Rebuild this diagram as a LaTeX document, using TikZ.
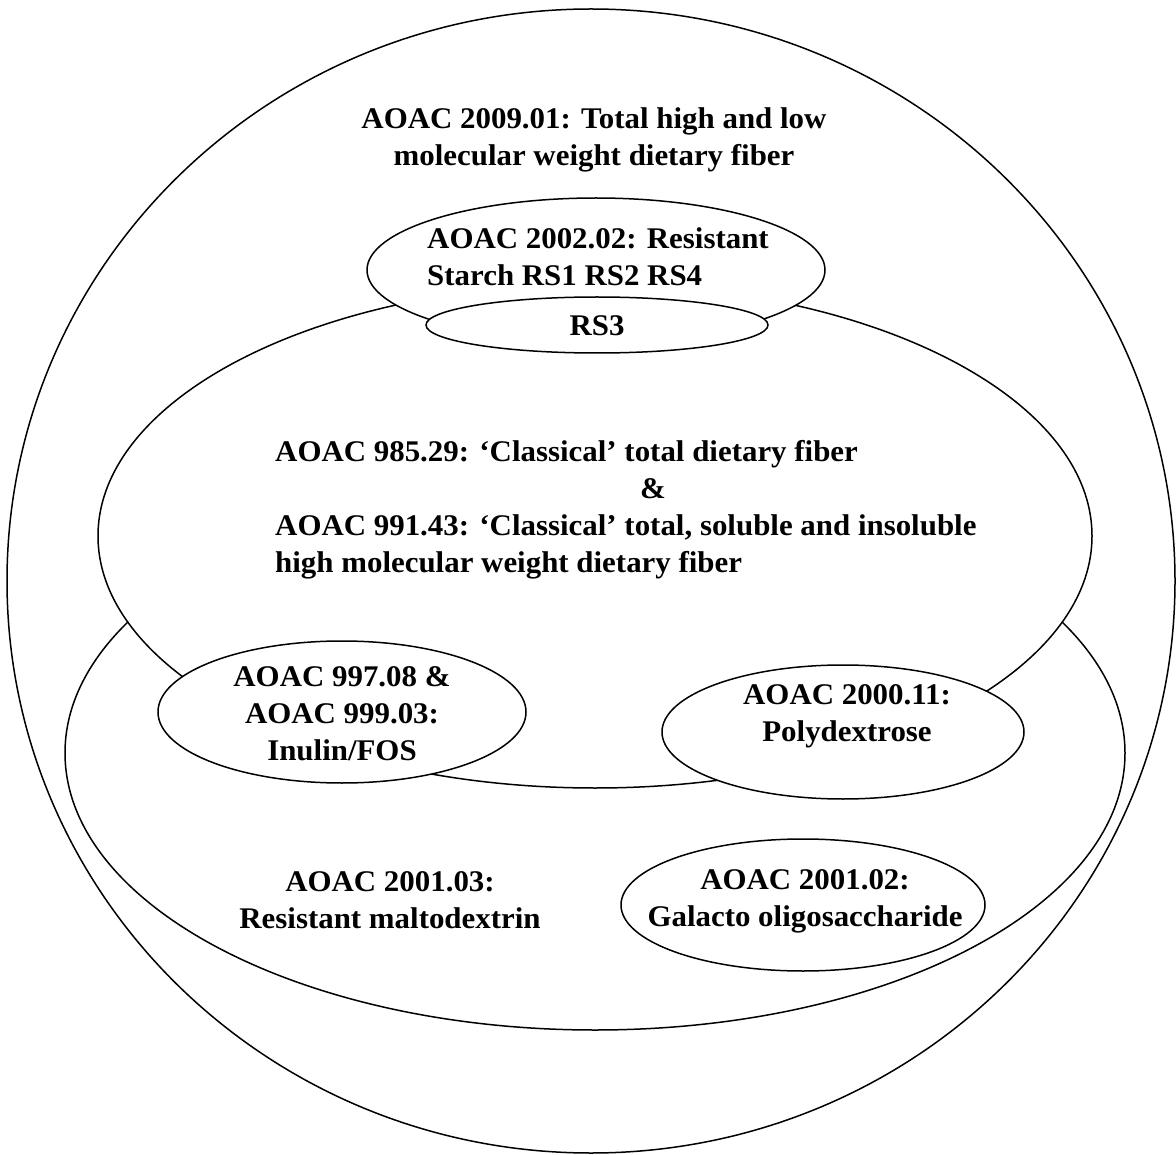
\documentclass[tikz,border=0pt]{standalone}
\usepackage{fontspec}
\newfontfamily\lbl[FakeStretch=1.03]{Liberation Serif Bold}
\tikzset{
  ell/.style={draw, line width=1.5pt, fill=white},
  txt/.style={font=\lbl\fontsize{30}{37}\selectfont, align=center, inner sep=0pt},
}
\begin{document}
\begin{tikzpicture}[x=1pt,y=-1pt]
\useasboundingbox (0,0) rectangle (1176,1155);
% outer
\draw[ell] (591,581) ellipse [x radius=584pt, y radius=572pt];
% lower (2001.03)
\draw[ell] (595,753) ellipse [x radius=530pt, y radius=277pt];
% middle (985.29)
\draw[ell] (595,536) ellipse [x radius=497pt, y radius=252pt];
% resistant starch
\draw[ell] (596,270) ellipse [x radius=229pt, y radius=72pt];
% RS3
\draw[ell] (597,325) ellipse [x radius=171pt, y radius=28pt];
% inulin
\draw[ell] (342,712) ellipse [x radius=184pt, y radius=71pt];
% polydextrose
\draw[ell] (843,732) ellipse [x radius=181pt, y radius=67pt];
% galacto
\draw[ell] (803,905) ellipse [x radius=182pt, y radius=66pt];

\node[txt] (t2009) at (594,140) {AOAC 2009.01: Total high and low\\molecular weight dietary fiber};
\node[txt, align=left, anchor=west] (t2002) at (427,257) {AOAC 2002.02: Resistant\\Starch RS1 RS2 RS4};
\node[txt] (trs3) at (597,326) {RS3};
\node[txt, align=left, anchor=west] (t985) at (275,510) {AOAC 985.29: ‘Classical’ total dietary fiber\\\hspace*{365pt}\&\\AOAC 991.43: ‘Classical’ total, soluble and insoluble\\high molecular weight dietary fiber};
\node[txt] (tinulin) at (342,714) {AOAC 997.08 \&\\AOAC 999.03:\\Inulin/FOS};
\node[txt] (tpoly) at (847,716) {AOAC 2000.11:\\Polydextrose};
\node[txt] (t200103) at (390,900) {AOAC 2001.03:\\Resistant maltodextrin};
\node[txt] (t200102) at (805,901) {AOAC 2001.02:\\Galacto oligosaccharide};
\end{tikzpicture}
\end{document}
